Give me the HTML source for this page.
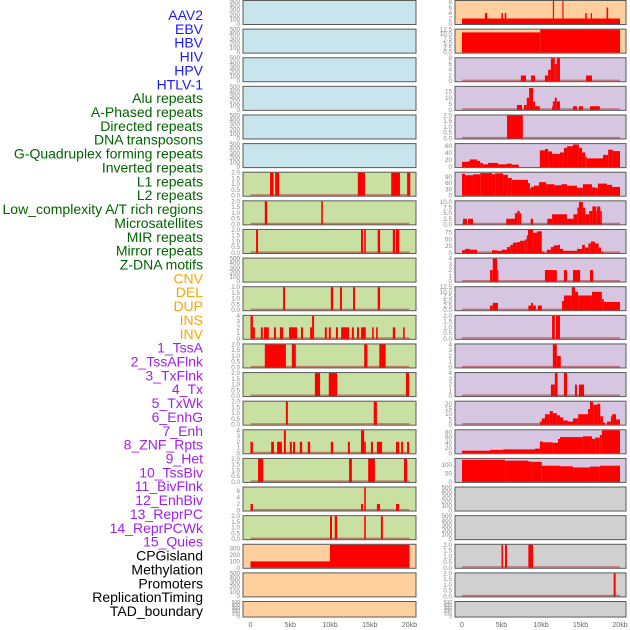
<!DOCTYPE html>
<html><head><meta charset="utf-8"><style>
html,body{margin:0;padding:0;background:#fff;width:630px;height:630px;overflow:hidden}
svg{display:block;font-family:"Liberation Sans",sans-serif}
</style></head><body>
<svg id="chart" width="630" height="630" viewBox="0 0 630 630"></svg>
<script>
const trackLabels=["AAV2","EBV","HBV","HIV","HPV","HTLV-1","Alu repeats","A-Phased repeats","Directed repeats","DNA transposons","G-Quadruplex forming repeats","Inverted repeats","L1 repeats","L2 repeats","Low_complexity A/T rich regions","Microsatellites","MIR repeats","Mirror repeats","Z-DNA motifs","CNV","DEL","DUP","INS","INV","1_TssA","2_TssAFlnk","3_TxFlnk","4_Tx","5_TxWk","6_EnhG","7_Enh","8_ZNF_Rpts","9_Het","10_TssBiv","11_BivFlnk","12_EnhBiv","13_ReprPC","14_ReprPCWk","15_Quies","CPGisland","Methylation","Promoters","ReplicationTiming","TAD_boundary"];
const labelGroups=[6,13,5,15,5];
const xTickLabels=["0","5kb","10kb","15kb","20kb"];
const xTickValues=[0,5,10,15,20];
const T500=["0","100","200","300","400","500"],T2=["0.0","0.5","1.0","1.5","2.0"],T4=["0","1","2","3","4"];
// middle column: y-axis max, ticks, segments [startKb,endKb,value]
const midYmax=[500,500,500,500,500,500,2,2,2,500,2,4,2,2,2,4,2,7,2,360,500,500];
const midTicks=[T500,T500,T500,T500,T500,T500,T2,T2,T2,T500,T2,T4,T2,T2,T2,T4,T2,["0","2","4","6"],T2,["0","100","200","300"],T500,T500];
const midSeries=[[],[],[],[],[],[],
[[2.45,2.9,2],[3.1,3.6,2],[13.5,14.4,2],[17.7,18.8,2],[19.7,20.1,2]],
[[1.8,2.1,2],[8.9,9.1,2]],
[[0.7,0.95,2],[13.9,14.15,2],[14.3,14.5,2],[16.0,16.3,2],[17.9,18.2,2],[18.3,18.7,2]],
[],
[[4.1,4.35,2],[10.1,10.4,2],[11.25,11.5,2],[12.9,13.15,2],[16.0,16.3,2]],
[[0,0.3,4],[0.3,0.55,2],[1.3,1.55,2],[1.7,2.3,2],[2.95,3.2,2],[3.7,4.1,2],[4.85,5.85,2],[6.35,6.6,2],[7.5,7.75,2],[7.75,8.0,4],[9.35,9.6,2],[9.85,10.1,2],[10.75,11.0,2],[11.4,12.4,2],[12.75,13.0,2],[13.4,13.65,2],[13.9,14.5,2],[15.3,15.5,2],[15.8,16.0,2],[17.9,18.2,2],[19.2,19.4,2]],
[[1.8,4.45,2],[5.2,5.7,2],[14.3,14.7,2],[16.2,17.0,2]],
[[8.1,8.75,2],[9.85,10.9,2],[19.55,19.95,2]],
[[4.45,4.7,2],[15.5,15.9,2]],
[[0,0.3,2],[2.6,2.95,2],[3.35,3.95,2],[4.2,4.45,4],[4.95,5.2,2],[5.35,5.6,2],[6.2,6.5,2],[7.2,7.5,2],[10.1,10.4,2],[12.25,12.5,2],[13.9,14.3,4],[14.3,14.5,2],[15.15,15.4,2],[15.9,16.55,2],[18.3,18.7,2],[18.95,19.2,2],[19.7,19.95,2]],
[[0.95,1.6,2],[12.4,12.75,2],[14.8,15.65,2],[19.3,19.7,2]],
[[0,0.3,2],[13.9,14.15,2],[14.3,14.5,7],[15.9,16.3,2],[18.3,18.7,2]],
[[10.0,10.25,2],[10.6,10.9,2],[14.3,14.5,2],[16.4,16.65,2]],
[[0,10,100],[10,20,360]],
[],[]];
const midFill=["#c8e4ec","#c8e4ec","#c8e4ec","#c8e4ec","#c8e4ec","#c8e4ec","#c9e0a3","#c9e0a3","#c9e0a3","#c9e0a3","#c9e0a3","#c9e0a3","#c9e0a3","#c9e0a3","#c9e0a3","#c9e0a3","#c9e0a3","#c9e0a3","#c9e0a3","#ffd09e","#ffd09e","#ffd09e"];
// right column
const rightYmax=[8.4,12.5,8,19,2,66,110,10.3,85,4,12.5,2,4,4,22,88,135,500,500,2,2,500];
const rightTicks=[["0","2","4","6","8"],["0.0","2.5","5.0","7.5","10.0","12.5"],["0","2","4","6","8"],["0","5","10","15"],T2,["0","20","40","60"],["0","30","60","90"],["0.0","2.5","5.0","7.5","10.0"],["0","25","50","75"],T4,["0.0","2.5","5.0","7.5","10.0","12.5"],T2,T4,T4,["0","5","10","15","20"],["0","20","40","60","80"],["0","50","100"],T500,T500,T2,T2,T500];
const rightSeries=[
[[0,20,2],[2.9,3.2,4],[5.0,5.2,4],[5.4,5.6,4],[11.5,11.65,8.4],[12.7,12.85,8.4],[15.6,15.8,4],[16.3,16.45,4],[18.3,18.5,6]],
[[0,9.9,11],[9.9,20,12.5]],
[[7.45,8.1,2],[8.75,9.25,2],[10.5,10.9,2],[10.9,11.25,4],[11.25,11.75,8],[11.75,12.0,6],[12.0,12.4,8],[15.7,16.45,2]],
[[6.95,7.6,4],[7.85,8.2,4],[8.2,8.5,10],[8.5,9.0,18],[9.0,9.25,7],[9.25,9.85,3],[11.4,11.5,3],[11.5,11.75,7],[11.75,12.0,10],[12.0,12.4,7],[14.05,14.55,3],[14.8,15.3,3],[16.2,17.45,3]],
[[5.7,7.7,2]],
[[0,0.75,15],[0.75,1.0,17],[1.0,1.9,22],[1.9,2.3,18],[2.3,2.65,12],[2.65,3.3,8],[3.3,4.55,12],[4.55,5.7,8],[5.7,6.3,10],[6.3,7.2,7],[9.85,10.5,48],[10.5,10.9,52],[10.9,11.4,45],[11.4,12.4,38],[12.4,12.9,42],[12.9,13.3,55],[13.3,14.05,60],[14.05,14.8,65],[14.8,15.2,55],[15.2,15.6,42],[15.6,15.8,30],[15.8,17.85,25],[17.85,18.5,35],[18.5,19.1,50],[19.1,20,46]],
[[0,0.4,105],[0.4,1.4,98],[1.4,2.3,102],[2.3,3.8,108],[3.8,4.2,103],[4.2,5.2,107],[5.2,5.8,100],[5.8,6.3,85],[6.3,8.35,76],[8.35,8.6,60],[8.6,8.75,35],[8.75,9.1,42],[9.1,9.75,48],[9.75,10.65,65],[10.65,11.7,55],[11.7,12.6,50],[12.6,13.3,55],[13.3,14.55,48],[14.55,15.3,38],[15.3,16.45,55],[16.45,16.85,40],[16.85,17.2,38],[17.2,18.35,58],[18.35,19.0,52],[19.0,20,42]],
[[0.13,0.63,2.5],[0.76,1.4,2.5],[5.6,6.7,2.5],[6.7,7.0,5],[7.0,7.3,6],[7.3,7.5,5],[8.7,9.0,2.5],[10.8,11.4,2.5],[11.4,13.3,4.5],[13.3,14.1,2.5],[14.1,14.6,4.5],[14.6,14.8,7.5],[14.8,15.3,10],[15.3,15.6,7.5],[15.6,16.1,4.5],[16.1,16.5,6],[16.5,17.0,8],[17.0,17.1,6],[17.1,17.5,8],[17.5,17.7,6]],
[[0,0.4,10],[0.4,1.0,15],[1.0,1.9,12],[3.8,4.45,10],[4.45,5.05,8],[5.05,5.7,12],[5.7,6.1,22],[6.1,6.45,30],[6.45,6.95,38],[6.95,7.35,40],[7.35,7.95,45],[7.95,8.2,50],[8.2,8.35,65],[8.35,9.0,85],[9.0,9.5,75],[9.5,10.1,80],[10.1,10.4,5],[10.75,11.25,12],[11.25,11.6,22],[11.6,12.15,28],[12.15,12.4,30],[12.4,12.8,15],[12.8,14.55,8],[14.55,15.2,15],[15.2,15.55,30],[15.55,16.0,20],[16.0,16.3,35],[16.3,16.85,42],[16.85,17.3,35],[17.3,17.6,20],[17.6,17.85,5]],
[[3.55,3.9,2],[3.9,4.45,4],[4.45,4.6,2],[10.5,12.0,2],[12.9,13.3,2],[14.05,14.95,2],[16.2,16.6,2]],
[[3.55,3.9,2.5],[3.9,4.55,4],[8.4,8.75,2.5],[8.75,9.0,4],[9.0,9.35,2.5],[9.6,10.1,2.5],[12.65,12.9,5],[12.9,13.9,8],[13.9,14.3,12.5],[14.3,14.7,10],[14.7,16.45,8],[16.45,17.7,10],[17.7,17.95,6],[17.95,20,4.5]],
[[11.4,11.75,2],[11.9,12.4,2]],
[[11.5,12.0,4],[12.0,12.5,2]],
[[11.25,11.75,2],[11.75,12.1,4],[12.9,13.3,4],[14.3,14.55,2],[14.8,15.45,2]],
[[9.85,10.1,3],[10.1,10.5,6],[10.5,11.1,10],[11.1,11.5,13],[11.5,12.0,11],[12.0,12.4,9],[12.4,12.8,7],[12.8,13.4,4],[13.4,14.05,3],[14.05,14.7,6],[14.7,15.95,10],[15.95,16.2,15],[16.2,16.6,22],[16.6,17.1,19],[17.1,17.5,20],[17.5,17.85,8],[17.85,18.1,2],[18.35,18.85,3],[18.85,19.0,8],[19.0,19.5,10],[19.5,20,5]],
[[0,3.55,10],[3.55,5.2,13],[5.2,9.25,15],[9.25,9.85,18],[9.85,10.25,45],[10.25,11.5,42],[11.5,12.15,40],[12.15,12.4,55],[12.4,15.3,62],[15.3,16.45,65],[16.45,16.85,55],[16.85,17.45,60],[17.45,17.7,70],[17.7,20,88]],
[[0,5.45,130],[5.45,8.35,125],[8.35,8.75,120],[8.75,10.1,118],[10.1,12.4,95],[12.4,14.05,92],[14.05,16.2,85],[16.2,17.45,90],[17.45,20,95]],
[],[],
[[5.0,5.2,2],[5.45,5.7,2],[8.4,9.0,2]],
[[19.2,19.45,2]],
[]];
const rightFill=["#ffd09e","#ffd09e","#d6c6e1","#d6c6e1","#d6c6e1","#d6c6e1","#d6c6e1","#d6c6e1","#d6c6e1","#d6c6e1","#d6c6e1","#d6c6e1","#d6c6e1","#d6c6e1","#d6c6e1","#d6c6e1","#d6c6e1","#d0d0d0","#d0d0d0","#d0d0d0","#d0d0d0","#d0d0d0"];
const withBaseline=[false,false,false,false,false,false,true,true,true,false,true,true,true,true,true,true,true,true,true,false,false,false];
const rightBaseline=[false,false,true,true,true,false,false,true,true,true,true,true,true,true,true,false,false,false,false,true,true,false];

const NS="http://www.w3.org/2000/svg";
const svg=document.getElementById('chart');
function mk(tag,attrs,parent){const e=document.createElementNS(NS,tag);for(const k in attrs)e.setAttribute(k,attrs[k]);(parent||svg).appendChild(e);return e;}
const groupColors=["#1a1aff","#006400","#ffa500","#a020f0","#000000"];
const groupNames=["virus","repeat","sv","chromatin-state","annotation"];
let li=0;
labelGroups.forEach((n,g)=>{for(let k=0;k<n;k++){const i=li++;
 const t=mk('text',{x:203,y:15+i*13.86+5,'text-anchor':'end','font-size':14,fill:groupColors[g]});
 t.textContent=trackLabels[i];
 
 
}});
function rowTop(i){return i*28.62;}
function rowH(i){return i===21?16:24.5;}
function drawCol(side,x0,w,xk0,xk20,ymaxArr,ticksArr,series,fills,base){
 const xs=kb=>xk0+(xk20-xk0)*kb/20;
 for(let i=0;i<22;i++){
  const T=rowTop(i),H=rowH(i);
  const g=mk('g',{});
  
  
  const r=mk('rect',{x:x0,y:T+0.5,width:w,height:H-0.5,fill:fills[i],stroke:'#5a5a5a','stroke-width':1},g);
  
  
  const yTop=T+1,yBot=T+H-0.5;
  const ys=v=>yBot-(yBot-yTop)*v/ymaxArr[i];
  if(base[i]){const b=mk('rect',{x:xs(0),y:yBot-1.6,width:xs(20)-xs(0),height:1.6,fill:'#b03030',opacity:0.55},g);
   }
  series[i].forEach(s=>{const y=ys(Math.min(s[2],ymaxArr[i]));
   const b=mk('rect',{x:xs(s[0]),y:y,width:Math.max(xs(s[1])-xs(s[0]),0.8),height:yBot-y,fill:'#ff0000'},g);
   });
  const tk=ticksArr[i];
  tk.forEach(lbl=>{const v=parseFloat(lbl);
   const t=mk('text',{x:x0-3,y:ys(v)+2,'text-anchor':'end','font-size':H<20?5:6.3,fill:'#888'},g);
   t.textContent=lbl;
   });
 }
 xTickValues.forEach((v,j)=>{const t=mk('text',{x:xs(v),y:627,'text-anchor':'middle','font-size':7,fill:'#666'});
  t.textContent=xTickLabels[j];
  });
}
drawCol('middle',243,173,250.5,409.5,midYmax,midTicks,midSeries,midFill,withBaseline);
drawCol('right',455,171,462,620,rightYmax,rightTicks,rightSeries,rightFill,rightBaseline);
</script>
</body></html>
